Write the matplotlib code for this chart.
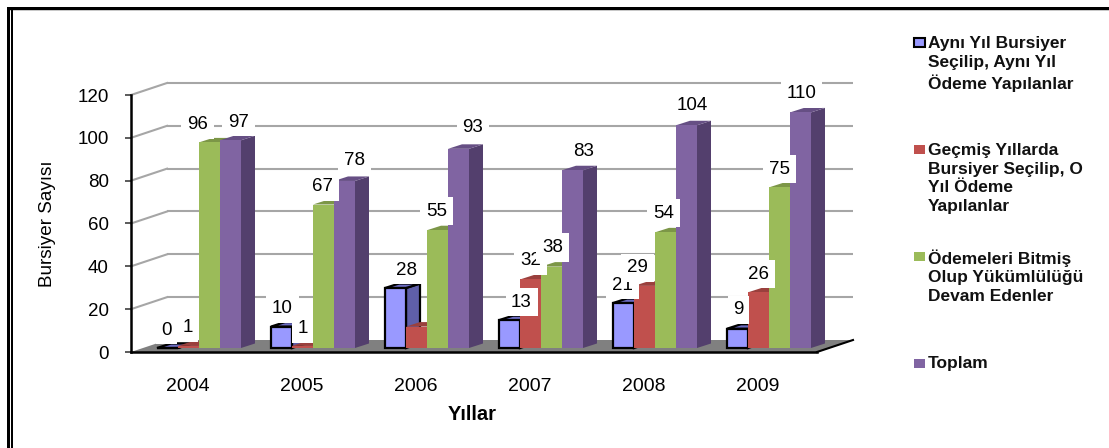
import matplotlib
matplotlib.use("Agg")
from matplotlib import pyplot as plt
from matplotlib.patches import Polygon, Rectangle
from matplotlib.transforms import Affine2D

plt.rcParams['font.family'] = ['Liberation Sans', 'DejaVu Sans']

W, H = 1109, 448

years = ["2004", "2005", "2006", "2007", "2008", "2009"]
ayni_yil = [0, 10, 28, 13, 21, 9]
gecmis = [1, 1, 10, 32, 29, 26]
bitmis = [96, 67, 55, 38, 54, 75]
toplam = [97, 78, 93, 83, 104, 110]
series = [ayni_yil, gecmis, bitmis, toplam]

legend_names = [
    "Aynı Yıl Bursiyer\nSeçilip, Aynı Yıl\nÖdeme Yapılanlar",
    "Geçmiş Yıllarda\nBursiyer Seçilip, O\nYıl Ödeme\nYapılanlar",
    "Ödemeleri Bitmiş\nOlup Yükümlülüğü\nDevam Edenler",
    "Toplam",
]
legend_y = [43, 150, 256, 363]

front_colors = ['#9999ff', '#c0504d', '#9bbb59', '#8064a2']
side_colors = ['#5f5fa8', '#8f3b39', '#748c42', '#533f6d']
top_colors = ['#6b6bc0', '#9a403d', '#7c9647', '#664f84']

# etiketlerin cubuk tepesine gore kaymasi (piksel), None = etiket yok
label_offsets = [
    [(-1, 18), (1, 18), (11, 18), (12, 18), (-1, 18), (1, 19)],
    [(-1, 18), (0, 17), None, (0, 19), (-7, 18), (0, 18)],
    [(-12, 18), (-1, 18), (-1, 19), (1, 19), (-2, 19), (0, 18)],
    [(8, 18), (10, 20), (14, 21), (11, 19), (6, 20), (1, 19)],
]

fig = plt.figure(figsize=(W / 100, H / 100), dpi=100)
# eksen: sol 131, sag 815, y=0 -> 352, y=120 -> 95
ax = fig.add_axes([131 / W, 1 - 352 / H, 684 / W, 257 / H])
ax.set_xlim(-0.5, 5.5)
ax.set_ylim(0, 120)
ax.patch.set_alpha(0)

px_x = 684 / 6
px_y = 257 / 120
bar_w = 21 / px_x

back = ax.transData + Affine2D().translate(36, 12)
bars = ax.transData + Affine2D().translate(11, 4)

# taban
x0, x1 = ax.get_xlim()
x1 = x1 + 2 / px_x
floor = Polygon([(x0, 0), (x0 + 36 / px_x, 12 / px_y), (x1 + 36 / px_x, 12 / px_y), (x1, 0)],
                closed=True, facecolor='#808080', edgecolor='none', clip_on=False, zorder=1)
ax.add_patch(floor)
ax.plot([x1, x1 + 36 / px_x], [0, 12 / px_y], color='black', lw=1.5, clip_on=False, zorder=2)
ax.plot([x0, x1], [0, 0], color='black', lw=1.8, clip_on=False, zorder=60)

# izgara
for v in range(20, 121, 20):
    ax.plot([x0, x1], [v, v], transform=back, color='#a6a6a6', lw=1.5, clip_on=False, zorder=1,
            solid_capstyle='butt')
    ax.plot([x0, x0 + 36 / px_x], [v, v + 12 / px_y], color='#a6a6a6', lw=1.5, clip_on=False, zorder=1)

# cubuklar
depth_x = 14 / px_x
depth_y = 4.5 / px_y
z = 3
for i in range(len(years)):
    for j, values in enumerate(series):
        v = values[i]
        left = i + (j - 2) * bar_w
        right = left + bar_w
        edge = 'black' if j == 0 else 'none'
        lw = 1.6 if j == 0 else 0
        side = Polygon([(right, 0), (right + depth_x, depth_y), (right + depth_x, v + depth_y), (right, v)],
                       closed=True, facecolor=side_colors[j], edgecolor=edge, lw=lw,
                       transform=bars, zorder=z, clip_on=False)
        top = Polygon([(left, v), (left + depth_x, v + depth_y), (right + depth_x, v + depth_y), (right, v)],
                      closed=True, facecolor=top_colors[j], edgecolor=edge, lw=lw,
                      transform=bars, zorder=z, clip_on=False)
        ax.add_patch(side)
        ax.add_patch(top)
        ax.bar(left, v, width=bar_w, align='edge', color=front_colors[j], edgecolor=edge, linewidth=lw,
               transform=bars, zorder=z, clip_on=False)
        z += 1

# deger etiketleri
for i in range(len(years)):
    for j, values in enumerate(series):
        off = label_offsets[j][i]
        if off is None:
            continue
        ax.annotate(str(values[i]), xy=(i + (j - 1.5) * bar_w, values[i]), xycoords=bars,
                    xytext=off, textcoords='offset pixels', ha='center', va='center',
                    fontsize=13.5, color='black', zorder=100,
                    bbox=dict(boxstyle='square,pad=0.3', facecolor='white', edgecolor='none'))

# eksenler
ax.set_xticks(range(len(years)))
ax.set_xticklabels(years, fontsize=14)
ax.set_yticks(range(0, 121, 20))
ax.tick_params(axis='x', length=0, pad=19)
ax.tick_params(axis='y', length=4, width=1.2, color='#404040', labelsize=13.5, pad=12)
for s in ['top', 'right', 'bottom']:
    ax.spines[s].set_visible(False)
ax.spines['left'].set_linewidth(1.8)
ax.spines['left'].set_zorder(60)

fig.text(47 / W, 1 - 224 / H, "Bursiyer Sayısı", rotation=90, ha='center', va='center', fontsize=13.6)
fig.text(472 / W, 1 - 414 / H, "Yıllar", ha='center', va='center', fontsize=14.5, fontweight='bold')

# lejant
for name, ly, c in zip(legend_names, legend_y, front_colors):
    ec = 'black' if c == '#9999ff' else 'none'
    fig.add_artist(Rectangle((914 / W, 1 - (ly + 4.5) / H), 11 / W, 9 / H, transform=fig.transFigure,
                             facecolor=c, edgecolor=ec, lw=1.5))
    fig.text(928 / W, 1 - (ly - 7) / H, name, ha='left', va='top', fontsize=12.5, fontweight='bold',
             linespacing=1.31, color='#111111')

# cerceve
fig.add_artist(Rectangle((7 / W, 1 - 10 / H), (W - 7) / W, 3 / H, transform=fig.transFigure,
                         facecolor='black', edgecolor='none'))
fig.add_artist(Rectangle((10 / W, 1 - 11 / H), (W - 10) / W, 1 / H, transform=fig.transFigure,
                         facecolor='#c8c8c8', edgecolor='none'))
fig.add_artist(Rectangle((7 / W, 0), 2.5 / W, 1 - 7 / H, transform=fig.transFigure,
                         facecolor='black', edgecolor='none'))
fig.add_artist(Rectangle((11 / W, 0), 1.5 / W, 1 - 10 / H, transform=fig.transFigure,
                         facecolor='black', edgecolor='none'))

fig.savefig("out.png", dpi=100)
